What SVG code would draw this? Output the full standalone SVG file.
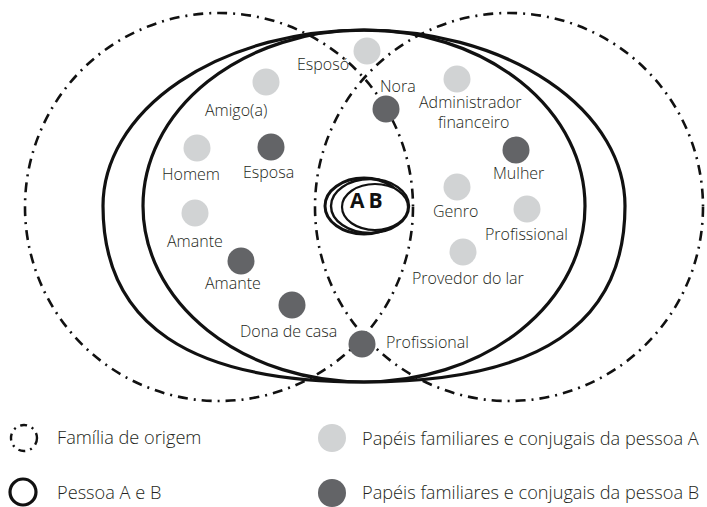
<svg xmlns="http://www.w3.org/2000/svg" width="707" height="507" viewBox="0 0 707 507">
<style>
.lbl{font-family:"Open Sans","Noto Sans","Liberation Sans",sans-serif;font-size:16px;font-weight:300;fill:#231f20}
.leg{font-family:"Open Sans","Noto Sans","Liberation Sans",sans-serif;font-size:18.2px;font-weight:300;fill:#231f20}
.a{fill:#d1d3d4}
.b{fill:#636467}
.dot{fill:none;stroke:#111;stroke-width:2.6;stroke-dasharray:10 6 2 6}
.sol{fill:none;stroke:#111;stroke-width:3.2}
</style>
<rect width="707" height="507" fill="#fff"/>
<g id="familias-de-origem">
<circle class="dot" cx="219" cy="207" r="194"/>
<circle class="dot" cx="509" cy="207" r="194"/>
</g>
<g id="pessoas-a-b">
<ellipse class="sol" cx="364" cy="206" rx="221" ry="176"/>
<path class="sol" d="M103,206 A261,176 0 0 1 625,206 C625,324 539,382 364,382 C189,382 103,324 103,206 Z"/>
</g>
<g id="casal-ab">
<ellipse cx="364" cy="206" rx="39" ry="28" fill="none" stroke="#111" stroke-width="3"/>
<ellipse cx="370" cy="206" rx="39" ry="27" fill="none" stroke="#111" stroke-width="2.4"/>
<ellipse cx="375" cy="207" rx="33" ry="23" fill="#fff" stroke="#111" stroke-width="2.2"/>
<text x="350" y="208" font-family="'Open Sans','Liberation Sans',sans-serif" font-size="21" font-weight="bold" fill="#111" letter-spacing="4">AB</text>
</g>
<g id="n-esposo"><circle class="a" cx="367" cy="51" r="13.5"/><text class="lbl" x="297" y="70">Esposó</text></g>
<g id="n-nora"><circle class="b" cx="386" cy="109" r="13.5"/><text class="lbl" x="380" y="92">Nora</text></g>
<g id="n-amigo"><circle class="a" cx="266" cy="82" r="13.5"/><text class="lbl" x="205" y="116">Amigo(a)</text></g>
<g id="n-homem"><circle class="a" cx="197" cy="148" r="13.5"/><text class="lbl" x="162" y="180">Homem</text></g>
<g id="n-esposa"><circle class="b" cx="271" cy="147" r="13.5"/><text class="lbl" x="243" y="178">Esposa</text></g>
<g id="n-amante-a"><circle class="a" cx="195" cy="213" r="13.5"/><text class="lbl" x="167" y="247">Amante</text></g>
<g id="n-amante-b"><circle class="b" cx="241" cy="261" r="13.5"/><text class="lbl" x="205" y="289">Amante</text></g>
<g id="n-dona-de-casa"><circle class="b" cx="292" cy="305" r="13.5"/><text class="lbl" x="240" y="337">Dona de casa</text></g>
<g id="n-profissional-b"><circle class="b" cx="362" cy="344" r="13.5"/><text class="lbl" x="386" y="348">Profissional</text></g>
<g id="n-administrador"><circle class="a" cx="457" cy="79" r="13.5"/><text class="lbl" x="419" y="108">Administrador</text><text class="lbl" x="438" y="128">financeiro</text></g>
<g id="n-mulher"><circle class="b" cx="516" cy="150" r="13.5"/><text class="lbl" x="493" y="179">Mulher</text></g>
<g id="n-genro"><circle class="a" cx="457" cy="187" r="13.5"/><text class="lbl" x="433" y="217">Genro</text></g>
<g id="n-profissional-a"><circle class="a" cx="527" cy="209" r="13.5"/><text class="lbl" x="485" y="240">Profissional</text></g>
<g id="n-provedor"><circle class="a" cx="463" cy="252" r="13.5"/><text class="lbl" x="412" y="284">Provedor do lar</text></g>
<g id="legenda">
<circle cx="24" cy="438" r="13" fill="none" stroke="#111" stroke-width="2.4" stroke-dasharray="7 5 2 5"/>
<text class="leg" x="57" y="444">Família de origem</text>
<circle cx="23" cy="492" r="13" fill="none" stroke="#111" stroke-width="3.2"/>
<text class="leg" x="57" y="499">Pessoa A e B</text>
<circle class="a" cx="332" cy="438" r="14"/>
<text class="leg" x="362" y="445">Papéis familiares e conjugais da pessoa A</text>
<circle class="b" cx="332" cy="493" r="14"/>
<text class="leg" x="362" y="499">Papéis familiares e conjugais da pessoa B</text>
</g>
</svg>
